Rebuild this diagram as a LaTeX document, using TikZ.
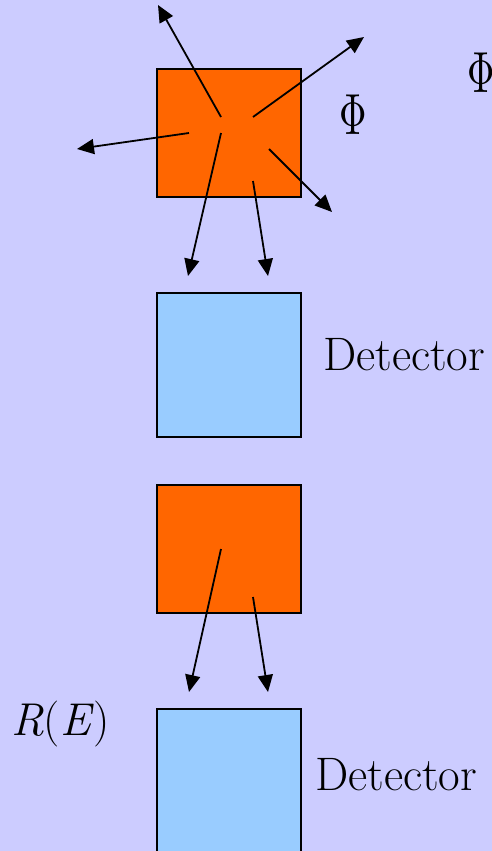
\documentclass[tikz,border=0pt]{standalone}
\usetikzlibrary{arrows.meta}
\definecolor{bgcol}{HTML}{CCCCFF}
\definecolor{srccol}{HTML}{FF6600}
\definecolor{detcol}{HTML}{99CCFF}
\tikzset{
  srcbox/.style={draw=black, line width=1.8pt, fill=srccol},
  detbox/.style={draw=black, line width=1.8pt, fill=detcol},
  ray/.style={line width=1.8pt, -{Triangle[length=17pt,width=15pt]}},
  bigtext/.style={inner sep=0pt, font=\fontsize{47}{50}\selectfont},
  phitext/.style={inner sep=0pt, xscale=3.8, yscale=5.8},
}
\begin{document}
\begin{tikzpicture}[x=1pt,y=-1pt]
  \fill[bgcol] (0,0) rectangle (492,851);
  \useasboundingbox (0,0) rectangle (492,851);

  % upper source, emitting in all directions
  \draw[srcbox] (157,69) rectangle (301,197);
  \coordinate (a1) at (221,117); \coordinate (t1) at (158,5);
  \coordinate (a2) at (253,117); \coordinate (t2) at (364,37);
  \coordinate (a3) at (189,133); \coordinate (t3) at (77,149);
  \coordinate (a4) at (269,149); \coordinate (t4) at (332,212);
  \coordinate (a5) at (221,133); \coordinate (t5) at (188,276);
  \coordinate (a6) at (253,181); \coordinate (t6) at (268,276);
  \foreach \i in {1,...,6} \draw[ray] (a\i) -- (t\i);

  \node[phitext] (phiA) at (353,115) {$\Phi$};
  \node[phitext] (phiB) at (481,73) {$\Phi$};

  % first detector
  \draw[detbox] (157,293) rectangle (301,437);
  \node[bigtext, anchor=base west] (detA) at (323,370) {Detector};

  % lower source, only the rays towards the detector
  \draw[srcbox] (157,485) rectangle (301,613);
  \coordinate (b1) at (221,549); \coordinate (u1) at (189,692);
  \coordinate (b2) at (253,597); \coordinate (u2) at (268,692);
  \draw[ray] (b1) -- (u1);
  \draw[ray] (b2) -- (u2);

  % second detector, running off the bottom edge
  \draw[detbox] (157,709) rectangle (301,880);
  \node[bigtext, anchor=base west] (detB) at (315,790) {Detector};

  \node[bigtext, font=\fontsize{46}{50}\selectfont, anchor=base west] (resp) at (11,735) {\textit{R}(\textit{E})};
\end{tikzpicture}
\end{document}
